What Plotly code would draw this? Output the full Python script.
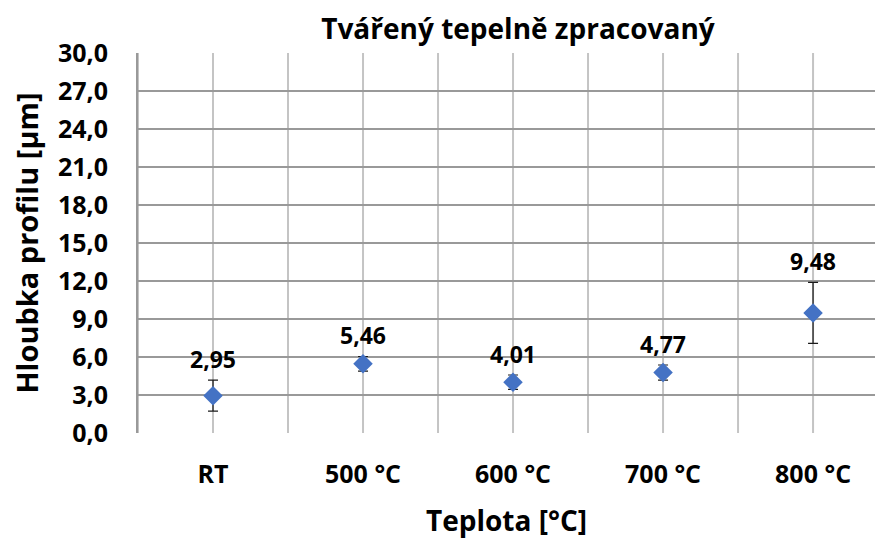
import plotly.graph_objects as go

# Category labels and measured profile depth with its spread
categories = ["RT", "500 °C", "600 °C", "700 °C", "800 °C"]
depth = [2.95, 5.46, 4.01, 4.77, 9.48]
depth_err = [1.22, 0.58, 0.57, 0.60, 2.41]

y_ticks = [0, 3, 6, 9, 12, 15, 18, 21, 24, 27, 30]

FONT = "Open Sans"
x_idx = list(range(len(categories)))

fig = go.Figure()

# Vertical grid lines at category centres and between categories
for b in [i - 0.5 for i in range(len(categories) + 1)] + x_idx:
    fig.add_shape(type="line", xref="x", yref="paper", x0=b, x1=b, y0=0, y1=1,
                  line=dict(color="#c4c4c4", width=2), layer="below")

fig.add_trace(go.Scatter(
    x=x_idx, y=depth, mode="markers",
    marker=dict(symbol="diamond", size=15, color="#4472C4"),
    error_y=dict(type="data", array=depth_err, visible=True,
                 color="#1a1a1a", thickness=1.2, width=5),
    showlegend=False,
))

for xi, v, e in zip(x_idx, depth, depth_err):
    fig.add_annotation(x=xi, y=v + e, text=f"<b>{v:.2f}</b>".replace(".", ","),
                       showarrow=False, yanchor="middle", yshift=21,
                       font=dict(family=FONT, size=23, color="#000000"))

fig.update_layout(
    width=875, height=539,
    margin=dict(l=138, r=0, t=53, b=106),
    paper_bgcolor="white", plot_bgcolor="white",
    separators=", ",
    font=dict(family=FONT, color="#000000"),
    title=dict(text="<b>Tvářený tepelně zpracovaný</b>", x=0.592, xanchor="center",
               y=0.945, yanchor="middle", font=dict(family=FONT, size=28, color="#000000")),
)

fig.update_xaxes(
    range=[-0.5, 4.413], tickvals=x_idx, ticktext=[f"<b>{c}</b>" for c in categories],
    showgrid=False, zeroline=False, showline=False,
    ticks="", ticklabelstandoff=24,
    tickfont=dict(family=FONT, size=25, color="#000000"),
    title=dict(text="<b>Teplota [°C]</b>", standoff=29,
               font=dict(family=FONT, size=28, color="#000000")),
)

fig.update_yaxes(
    range=[0, 30], tickvals=y_ticks, tickformat=".1f",
    showgrid=True, gridcolor="#999999", gridwidth=2,
    zeroline=False, showline=True, linecolor="#999999", linewidth=2,
    ticks="", ticklabelstandoff=23,
    tickfont=dict(family=FONT, size=25, color="#000000", weight="bold"),
    title=dict(text="<b>Hloubka profilu [μm]</b>", standoff=11,
               font=dict(family=FONT, size=29, color="#000000")),
)

fig.write_html("out.html")
